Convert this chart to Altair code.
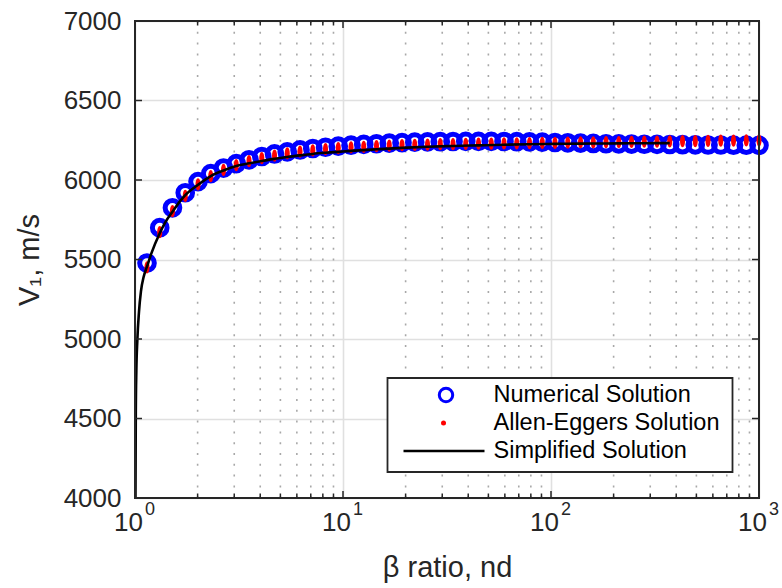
import altair as alt
import pandas as pd

# ---------------- data ----------------
beta = [1.142, 1.315, 1.514, 1.744, 2.009, 2.313, 2.664, 3.068, 3.533, 4.069,
        4.686, 5.395, 6.214, 7.156, 8.241, 9.489, 10.93, 12.58, 14.49, 16.69,
        19.22, 22.13, 25.49, 29.35, 33.80, 38.92, 44.82, 51.62, 59.44, 68.45,
        78.83, 90.78, 104.5, 120.4, 138.7, 159.7, 183.9, 211.8, 243.9, 280.8,
        323.4, 372.4, 428.9, 493.9, 568.8, 655.0, 754.3, 868.6, 1000.0]
v_numerical = [5478, 5700, 5825, 5920, 5990, 6040, 6075, 6103, 6127, 6148,
               6164, 6177, 6189, 6198, 6206, 6213, 6219, 6224, 6228, 6232,
               6235, 6238, 6240, 6241, 6242, 6243, 6243, 6243, 6242, 6241,
               6240, 6238, 6236, 6234, 6232, 6230, 6228, 6227, 6226, 6225,
               6224, 6223, 6222, 6221, 6220, 6220, 6219, 6219, 6218]
v_allen = [5450, 5672, 5805, 5900, 5972, 6025, 6063, 6093, 6118, 6138,
           6154, 6167, 6178, 6187, 6194, 6200, 6205, 6209, 6213, 6216,
           6219, 6221, 6223, 6225, 6226, 6227, 6228, 6229, 6230, 6231,
           6232, 6233, 6234, 6235, 6236, 6237, 6238, 6239, 6240, 6241,
           6242, 6243, 6244, 6245, 6246, 6247, 6248, 6249, 6250]
beta_simple = [1.005, 1.009, 1.015, 1.026, 1.045, 1.068, 1.10, 1.142, 1.20, 1.315,
               1.40, 1.514, 1.655, 1.744, 2.009, 2.313, 2.664, 3.068, 3.533, 4.069,
               4.686, 5.395, 6.214, 7.156, 8.241, 9.489, 10.93, 14.49, 19.22, 25.49,
               33.80, 44.82, 59.44, 78.83, 104.5, 138.7, 183.9, 243.9, 323.4, 372.4]
v_simple = [4000, 4550, 4800, 4990, 5170, 5300, 5390, 5455, 5540, 5665,
            5735, 5800, 5870, 5905, 5970, 6025, 6060, 6088, 6105, 6120,
            6133, 6145, 6155, 6164, 6171, 6177, 6183, 6193, 6202, 6209,
            6214, 6218, 6222, 6225, 6227, 6229, 6230, 6231, 6232, 6232]

y_ticks = [4000, 4500, 5000, 5500, 6000, 6500, 7000]
x_major = [1, 10, 100, 1000]
x_exp = ["0", "1", "2", "3"]
x_minor = [2, 3, 4, 5, 6, 7, 8, 9, 20, 30, 40, 50, 60, 70, 80, 90,
           200, 300, 400, 500, 600, 700, 800, 900]
legend_labels = ["Numerical Solution", "Allen-Eggers Solution", "Simplified Solution"]

# ---------------- styling ----------------
W, H = 624, 477
FONT = "Liberation Sans"
INK = "#262626"
GRID = "#e0e0e0"
BLUE = "#0000ff"
RED = "#ff0000"
OVAL = "M0,-1C0.55,-1 0.55,1 0,1C-0.55,1 -0.55,-1 0,-1Z"

xs = alt.Scale(type="log", domain=[1, 1000])
ys = alt.Scale(domain=[4000, 7000])

df_num = pd.DataFrame({"beta": beta, "v": v_numerical})
df_ae = pd.DataFrame({"beta": beta, "v": v_allen})
df_s = pd.DataFrame({"beta": beta_simple, "v": v_simple})
df_ytk = pd.DataFrame({"v": y_ticks})
df_xmaj = pd.DataFrame({"b": x_major, "base": ["10"] * len(x_major), "e": x_exp})
df_xmin = pd.DataFrame({"b": x_minor})
one = pd.DataFrame({"k": [0]})

x_axis = alt.Axis(values=x_major, grid=True, gridColor=GRID, gridWidth=1.6,
                  labels=False, ticks=False, domain=False,
                  title="β ratio, nd", titleFont=FONT, titleFontSize=29,
                  titleFontWeight="normal", titleColor=INK,
                  titleBaseline="middle", titleY=69)
y_axis = alt.Axis(values=y_ticks, format="d", grid=True, gridColor=GRID, gridWidth=1.6,
                  ticks=False, domain=False, labelFont=FONT, labelFontSize=26,
                  labelColor=INK, labelPadding=14,
                  title="V₁, m/s", titleFont=FONT, titleFontSize=29,
                  titleFontWeight="normal", titleColor=INK,
                  titleX=-106, titleY=H / 2, titleBaseline="middle")


def X(f):
    return alt.X(f, scale=xs, axis=x_axis)


def Y(f):
    return alt.Y(f, scale=ys, axis=y_axis)


minor_grid = alt.Chart(df_xmin).mark_rule(
    color="#a8a8a8", strokeWidth=1.6, strokeDash=[2, 8.8]
).encode(x=X("b:Q"))

circles = alt.Chart(df_num).mark_point(
    shape="circle", size=215, strokeWidth=5, color=BLUE, filled=False, opacity=1
).encode(x=X("beta:Q"), y=Y("v:Q"))

dots = alt.Chart(df_ae).mark_point(
    shape=OVAL, size=150, filled=True, color=RED, opacity=1, strokeWidth=0
).encode(x=X("beta:Q"), y=Y("v:Q"))

line = alt.Chart(df_s).mark_line(
    color="black", strokeWidth=2.6, interpolate="monotone"
).encode(x=X("beta:Q"), y=Y("v:Q"))

tick_style = dict(color=INK, strokeWidth=1.5)
ytick_l = alt.Chart(df_ytk).mark_rule(**tick_style).encode(
    y=Y("v:Q"), x=alt.value(0), x2=alt.value(7))
ytick_r = alt.Chart(df_ytk).mark_rule(**tick_style).encode(
    y=Y("v:Q"), x=alt.value(W - 7), x2=alt.value(W))
xtick_b = alt.Chart(df_xmaj).mark_rule(**tick_style).encode(
    x=X("b:Q"), y=alt.value(H - 7), y2=alt.value(H))
xtick_t = alt.Chart(df_xmaj).mark_rule(**tick_style).encode(
    x=X("b:Q"), y=alt.value(0), y2=alt.value(7))
xmtick_b = alt.Chart(df_xmin).mark_rule(**tick_style).encode(
    x=X("b:Q"), y=alt.value(H - 4.5), y2=alt.value(H))
xmtick_t = alt.Chart(df_xmin).mark_rule(**tick_style).encode(
    x=X("b:Q"), y=alt.value(0), y2=alt.value(4.5))

xlab_base = alt.Chart(df_xmaj).mark_text(
    font=FONT, fontSize=26, color=INK, align="right", baseline="middle", dx=8
).encode(x=X("b:Q"), y=alt.value(H + 25), text="base:N")
xlab_exp = alt.Chart(df_xmaj).mark_text(
    font=FONT, fontSize=18, color=INK, align="left", baseline="middle", dx=10
).encode(x=X("b:Q"), y=alt.value(H + 12), text="e:N")

frame = alt.Chart(one).mark_rect(
    fillOpacity=0, stroke=INK, strokeWidth=2
).encode(x=alt.value(0), x2=alt.value(W), y=alt.value(0), y2=alt.value(H))

# ---------------- legend ----------------
LX0, LX1, LY0, LY1 = 252.5, 597.5, 357, 451
ROWS = [374, 402, 430]
TX = 358.5
leg_box = alt.Chart(one).mark_rect(fill="white", stroke=INK, strokeWidth=1.8).encode(
    x=alt.value(LX0), x2=alt.value(LX1), y=alt.value(LY0), y2=alt.value(LY1))
leg_c = alt.Chart(one).mark_point(
    shape="circle", size=180, strokeWidth=3, color=BLUE, filled=False, opacity=1
).encode(x=alt.value(311), y=alt.value(ROWS[0]))
leg_d = alt.Chart(one).mark_point(
    shape="circle", size=25, filled=True, color=RED, opacity=1, strokeWidth=0
).encode(x=alt.value(308.5), y=alt.value(ROWS[1]))
leg_l = alt.Chart(one).mark_rule(color="black", strokeWidth=2.6).encode(
    x=alt.value(268.5), x2=alt.value(349.5), y=alt.value(ROWS[2]))
leg_texts = [
    alt.Chart(one).mark_text(font=FONT, fontSize=23.5, color="black", align="left",
                             baseline="middle", text=lab).encode(
        x=alt.value(TX), y=alt.value(ROWS[i]))
    for i, lab in enumerate(legend_labels)
]

chart = alt.layer(
    minor_grid, circles, dots, line,
    ytick_l, ytick_r, xtick_b, xtick_t, xmtick_b, xmtick_t,
    xlab_base, xlab_exp, frame,
    leg_box, leg_c, leg_d, leg_l, *leg_texts
).properties(
    width=W, height=H,
    padding={"left": 135, "top": 21, "right": 23, "bottom": 90},
    autosize=alt.AutoSizeParams(type="none"),
    background="white",
).configure_view(strokeWidth=0)

chart.save("out.html", embed_options={"renderer": "svg", "actions": False})
